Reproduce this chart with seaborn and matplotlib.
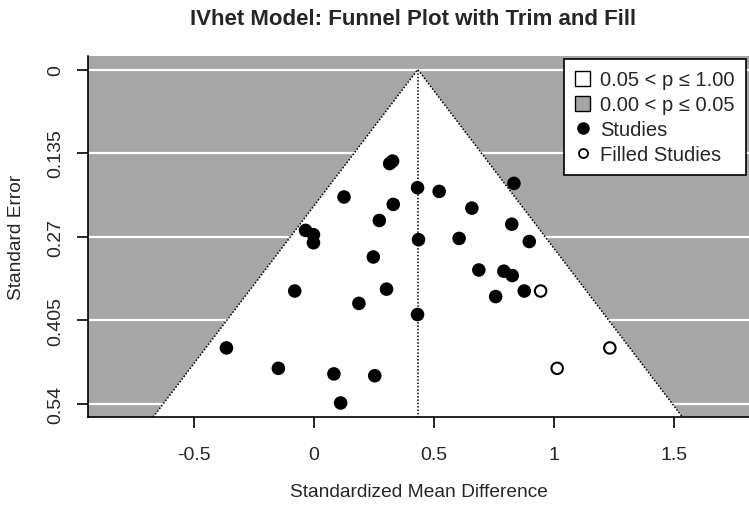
import numpy as np
import pandas as pd
import matplotlib
matplotlib.use("Agg")
import matplotlib.pyplot as plt
import seaborn as sns
from matplotlib.lines import Line2D
from matplotlib.patches import Patch

# ---- data ----
study_yi = [0.327, 0.315, 0.832, 0.431, 0.521, 0.125, 0.330, 0.657, 0.272, 0.823,
            -0.035, -0.002, -0.002, 0.435, 0.604, 0.896, 0.247, 0.686, 0.790, 0.825,
            -0.080, 0.302, 0.875, 0.756, 0.187, 0.431, -0.364, -0.148, 0.083, 0.253,
            0.111]
study_se = [0.148, 0.152, 0.184, 0.191, 0.197, 0.206, 0.218, 0.224, 0.244, 0.250,
            0.260, 0.267, 0.280, 0.275, 0.273, 0.278, 0.303, 0.324, 0.326, 0.333,
            0.358, 0.355, 0.358, 0.367, 0.378, 0.396, 0.450, 0.483, 0.492, 0.495,
            0.539]
filled_yi = [0.943, 1.231, 1.012]
filled_se = [0.358, 0.450, 0.483]

center = 0.432
se_max = 0.54
y_ticks = [0, 0.135, 0.27, 0.405, 0.54]
y_ticklabels = ["0", "0.135", "0.27", "0.405", "0.54"]
x_ticks = [-0.5, 0, 0.5, 1, 1.5]
x_ticklabels = ["-0.5", "0", "0.5", "1", "1.5"]

df = pd.DataFrame({
    "yi": study_yi + filled_yi,
    "se": study_se + filled_se,
    "kind": ["Studies"] * len(study_yi) + ["Filled Studies"] * len(filled_yi),
})

sns.set_style("ticks")
plt.rcParams['font.family'] = ['Liberation Sans', 'DejaVu Sans']

grey = "#a6a6a6"
fig = plt.figure(figsize=(7.49, 5.06), dpi=100)
ax = fig.add_axes([0.1175, 0.174, 0.8825, 0.713])

ylo = -0.04 * se_max
yhi = se_max * 1.04
ax.set_ylim(yhi, ylo)
ax.set_xlim(-0.94, 1.81)
ax.set_facecolor(grey)

# white grid lines in the shaded region
for t in y_ticks:
    ax.axhline(t, color="white", lw=1.6, zorder=0.5)

# funnel (white region, p > 0.05)
half = 1.96 * yhi
ax.fill([center - half, center, center + half], [yhi, 0, yhi],
        color="white", zorder=1, lw=0)
ax.plot([center - half, center, center + half], [yhi, 0, yhi],
        color="black", ls=(0, (1, 1.2)), lw=1.1, zorder=2)
ax.plot([center, center], [0, yhi], color="black", ls=(0, (1, 1.2)), lw=1.1, zorder=2)

sns.scatterplot(data=df, x="yi", y="se", style="kind", hue="kind",
                palette={"Studies": "black", "Filled Studies": "white"},
                markers={"Studies": "o", "Filled Studies": "o"},
                s=68, edgecolor="black", linewidth=1.5, legend=False, ax=ax, zorder=3)

ax.set_yticks(y_ticks)
ax.set_yticklabels(y_ticklabels, rotation=90, va="center")
ax.set_xticks(x_ticks)
ax.set_xticklabels(x_ticklabels)
ax.tick_params(axis="both", length=8, width=1.2, labelsize=14, color="black")
ax.tick_params(axis="x", pad=13)
ax.tick_params(axis="y", pad=9)

for s in ["top", "right"]:
    ax.spines[s].set_visible(False)
for s in ["left", "bottom"]:
    ax.spines[s].set_linewidth(1.2)
    ax.spines[s].set_color("black")

ax.set_xlabel("Standardized Mean Difference", fontsize=13.8, labelpad=14)
ax.set_ylabel("Standard Error", fontsize=13.8, labelpad=16)
fig.suptitle("IVhet Model: Funnel Plot with Trim and Fill", fontsize=16,
             fontweight="bold", x=0.552, y=0.982)

handles = [
    Patch(facecolor="white", edgecolor="black", label="0.05 < p ≤ 1.00"),
    Patch(facecolor=grey, edgecolor="black", label="0.00 < p ≤ 0.05"),
    Line2D([], [], marker="o", ls="", color="black", markersize=8, label="Studies"),
    Line2D([], [], marker="o", ls="", markerfacecolor="white", markeredgecolor="black",
           markeredgewidth=1.3, markersize=6.5, label="Filled Studies"),
]
leg = ax.legend(handles=handles, loc="upper right", fontsize=14.5, frameon=True,
                fancybox=False, framealpha=1, edgecolor="black",
                handlelength=0.75, handleheight=0.75, handletextpad=0.5,
                borderaxespad=0.15, borderpad=0.55, labelspacing=0.3)
leg.get_frame().set_linewidth(1.2)

fig.savefig("out.png", dpi=100)
